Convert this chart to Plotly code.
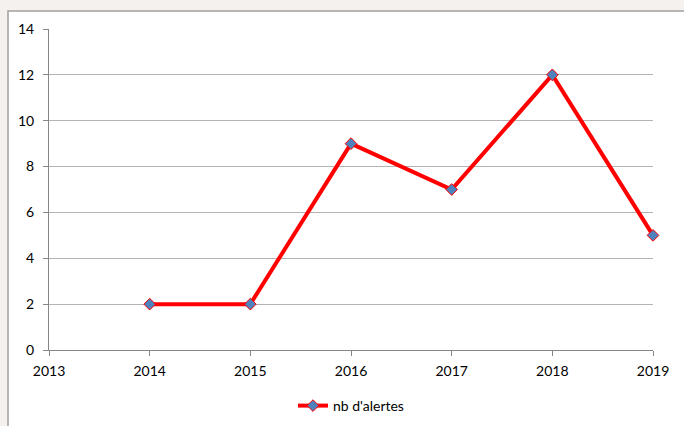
import plotly.graph_objects as go

years = [2014, 2015, 2016, 2017, 2018, 2019]
alertes = [2, 2, 9, 7, 12, 5]
series_name = "nb d'alertes"

L, R, T, B = 49, 31, 29, 76
W, H = 684, 426
pw, ph = W - L - R, H - T - B

def px(x):
    return (x - L) / pw

def py(y):
    return (H - B - y) / ph

fig = go.Figure()
fig.add_trace(go.Scatter(
    x=years, y=alertes, name=series_name, mode="lines+markers",
    line=dict(color="#ff0000", width=4),
    marker=dict(symbol="diamond", size=9, color="#4f81bd",
                line=dict(color="#ff0000", width=1)),
    cliponaxis=False,
))

fig.add_shape(type="rect", xref="paper", yref="paper",
              x0=px(8), x1=px(700), y0=py(440), y1=py(11),
              fillcolor="white", line=dict(color="#a0a0a0", width=1.5),
              layer="below")

fig.update_layout(
    width=W, height=H,
    margin=dict(l=L, r=R, t=T, b=B, autoexpand=False),
    paper_bgcolor="#f4f1ee", plot_bgcolor="rgba(0,0,0,0)",
    font=dict(family="Lato, Liberation Sans, sans-serif", size=14, color="#000000"),
    showlegend=True,
    legend=dict(orientation="h", x=0.5, xanchor="center",
                yref="container", y=1 - 406 / H, yanchor="middle",
                font=dict(size=14), bgcolor="rgba(0,0,0,0)"),
    xaxis=dict(range=[2013, 2019], tickmode="linear", tick0=2013, dtick=1,
               showgrid=False, showline=True, linecolor="#868686", linewidth=1,
               ticks="outside", ticklen=5, tickcolor="#868686", zeroline=False,
               ticklabelstandoff=3, tickfont=dict(size=14)),
    yaxis=dict(range=[0, 14], tickmode="linear", tick0=0, dtick=2,
               showgrid=True, gridcolor="#b3b3b3", gridwidth=1,
               showline=True, linecolor="#868686", linewidth=1,
               ticks="outside", ticklen=5, tickcolor="#868686", zeroline=False,
               ticklabelstandoff=6, tickfont=dict(size=14)),
)

fig.write_html("out.html")
